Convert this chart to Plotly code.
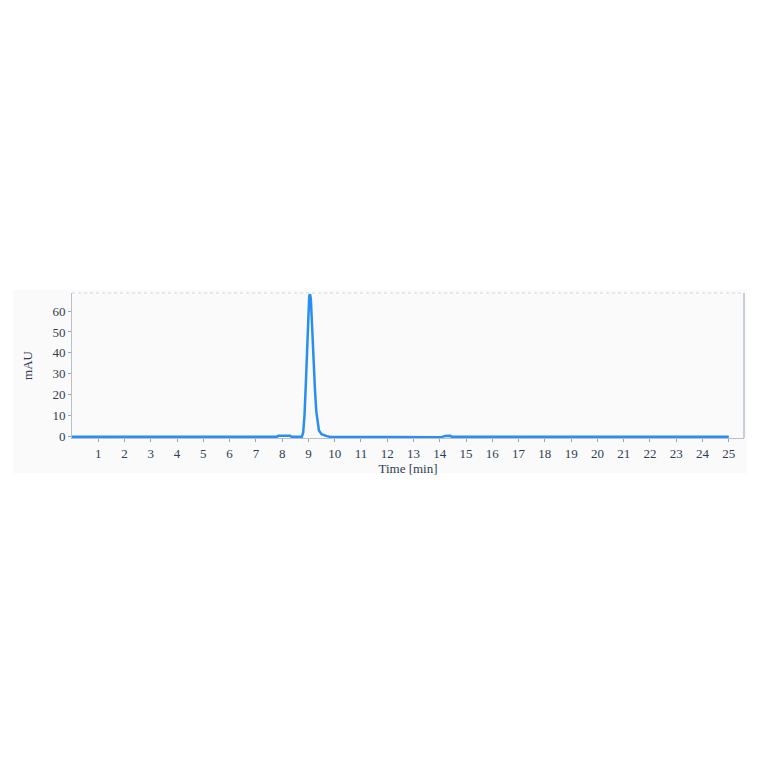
import plotly.graph_objects as go

time_min = [0, 7.8, 7.85, 8.3, 8.35, 8.75, 8.8, 8.85, 8.9, 8.95, 9.0, 9.03, 9.06, 9.09, 9.12,
            9.15, 9.2, 9.25, 9.3, 9.35, 9.4, 9.5, 9.6, 9.7, 9.8, 14.0, 14.05, 14.2, 14.25,
            14.4, 14.45, 25]
mau = [0, 0, 0.5, 0.5, 0, 0, 2, 10, 25, 45, 60, 67, 68, 66, 58,
       48, 35, 22, 12, 6, 3, 1.2, 0.6, 0.3, 0, 0, -0.3, 0.4, 0.5,
       0.5, 0, 0]
x_ticks = list(range(1, 26))
y_ticks = [0, 10, 20, 30, 40, 50, 60]

font_family = "Liberation Serif, DejaVu Serif, serif"
text_color = "#2f3e53"

fig = go.Figure()
fig.add_trace(go.Scatter(x=time_min, y=mau, mode="lines",
                         line=dict(color="#2a8ef0", width=2.5), showlegend=False))

# outer light panel
fig.add_shape(type="rect", xref="paper", yref="paper",
              x0=-59/672, x1=1 + 3/672, y0=-35/145, y1=1 + 3/145,
              fillcolor="#fafafa", line=dict(width=0), layer="below")

fig.update_layout(
    width=748, height=748,
    margin=dict(l=64, r=12, t=285, b=318),
    paper_bgcolor="white", plot_bgcolor="#fcfcfc",
    font=dict(family=font_family, color=text_color, size=13),
    xaxis=dict(range=[0, 25.58], tickmode="array", tickvals=x_ticks,
               ticks="outside", ticklen=3, tickcolor="#9aa6b5",
               showgrid=False, zeroline=False, showline=True, linecolor="#b8c0cc",
               mirror=False, title=dict(text="Time [min]", standoff=0, font=dict(size=13)),
               tickfont=dict(size=13)),
    yaxis=dict(range=[-0.6, 68.6], tickmode="array", tickvals=y_ticks,
               ticks="outside", ticklen=3, tickcolor="#9aa6b5",
               showgrid=False, zeroline=False, showline=True, linecolor="#b8c0cc",
               title=dict(text="mAU", standoff=16, font=dict(size=13)), tickfont=dict(size=13)),
)
# right border and dotted top border
fig.add_shape(type="line", xref="paper", yref="paper", x0=1, x1=1, y0=0, y1=1,
              line=dict(color="#b8c0cc", width=1.5))
fig.add_shape(type="line", xref="paper", yref="paper", x0=0, x1=1, y0=1, y1=1,
              line=dict(color="#cfd5dd", width=1, dash="dot"))

fig.write_html("out.html")
